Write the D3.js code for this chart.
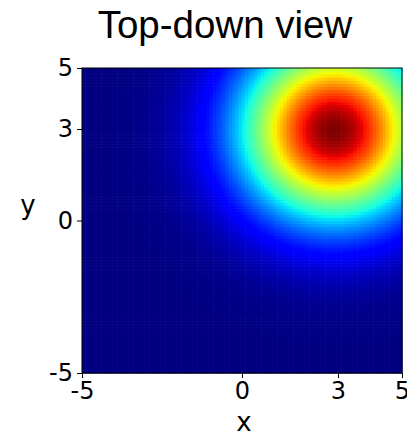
<!DOCTYPE html>
<html>
<head>
<meta charset="utf-8">
<script src="https://cdn.jsdelivr.net/npm/d3@7.9.0/dist/d3.min.js"></script>
<style>
  html, body { margin: 0; padding: 0; background: #fff; }
  svg { display: block; }
  .tick text { font-family: "DejaVu Sans", sans-serif; font-size: 24px; fill: #000; }
</style>
</head>
<body>
<svg id="chart" width="407" height="442"></svg>
<script>
// Surface: a single bump, peak position and spread
const peakX = [2.88];
const peakY = [2.97];
const peakSpread = [8];
const gridSize = [100];
const xDomain = [-5, 5];
const yDomain = [-5, 5];
const xTicks = [-5, 0, 3, 5];
const yTicks = [-5, 0, 3, 5];

const svg = d3.select('#chart');
const plotLeft = 82, plotRight = 402, plotTop = 68, plotBottom = 373;

let x = d3.scaleLinear().domain(xDomain).range([plotLeft, plotRight]);
let y = d3.scaleLinear().domain(yDomain).range([plotBottom, plotTop]);

// jet colormap, one scale per channel
let red = d3.scaleLinear().domain([0, 0.35, 0.66, 0.89, 1]).range([0, 0, 1, 1, 0.5]).clamp(true);
let green = d3.scaleLinear().domain([0, 0.125, 0.375, 0.64, 0.91, 1]).range([0, 0, 1, 1, 0, 0]).clamp(true);
let blue = d3.scaleLinear().domain([0, 0.11, 0.34, 0.65, 1]).range([0.5, 1, 1, 0, 0]).clamp(true);
let jet = (t) => d3.rgb(red(t) * 255, green(t) * 255, blue(t) * 255).toString();

// build cells
let n = gridSize[0];
let step = (xDomain[1] - xDomain[0]) / n;
let cells = [];
for (let i = 0; i < n; i++) {
    for (let j = 0; j < n; j++) {
        let cx = xDomain[0] + (i + 0.5) * step;
        let cy = yDomain[0] + (j + 0.5) * step;
        let r2 = (cx - peakX[0]) ** 2 + (cy - peakY[0]) ** 2;
        cells.push({ x0: cx - step / 2, y0: cy - step / 2, z: Math.exp(-r2 / peakSpread[0]) });
    }
}
let zExtent = d3.extent(cells, (d) => d.z);
let color = (z) => jet((z - zExtent[0]) / (zExtent[1] - zExtent[0]));

svg.append('g')
    .selectAll('rect')
    .data(cells)
    .join('rect')
    .attr('x', (d) => x(d.x0))
    .attr('y', (d) => y(d.y0 + step))
    .attr('width', (d) => x(d.x0 + step) - x(d.x0) + 0.6)
    .attr('height', (d) => y(d.y0) - y(d.y0 + step) + 0.6)
    .attr('fill', (d) => color(d.z));

// frame
svg.append('rect')
    .attr('x', plotLeft).attr('y', plotTop)
    .attr('width', plotRight - plotLeft).attr('height', plotBottom - plotTop)
    .attr('fill', 'none').attr('stroke', '#000').attr('stroke-width', 1);

// axes
let xAxis = svg.append('g')
    .attr('transform', `translate(0,${plotBottom})`)
    .call(d3.axisBottom(x).tickValues(xTicks).tickSize(5).tickPadding(4));
let yAxis = svg.append('g')
    .attr('transform', `translate(${plotLeft},0)`)
    .call(d3.axisLeft(y).tickValues(yTicks).tickSize(5).tickPadding(4));
[xAxis, yAxis].forEach((a) => {
    a.select('.domain').remove();
    a.selectAll('.tick line').attr('stroke', '#000');
    a.selectAll('.tick text').text((d) => String(d));
});

// labels
svg.append('text')
    .attr('x', 225).attr('y', 38)
    .attr('text-anchor', 'middle')
    .style('font-family', '"Liberation Sans", Arial, sans-serif')
    .style('font-size', '38.5px')
    .text('Top-down view');

svg.append('text')
    .attr('x', 244).attr('y', 431)
    .attr('text-anchor', 'middle')
    .style('font-family', '"DejaVu Sans", sans-serif')
    .style('font-size', '26px')
    .text('x');

svg.append('text')
    .attr('x', 28).attr('y', 214)
    .attr('text-anchor', 'middle')
    .style('font-family', '"DejaVu Sans", sans-serif')
    .style('font-size', '26px')
    .text('y');
</script>
</body>
</html>
